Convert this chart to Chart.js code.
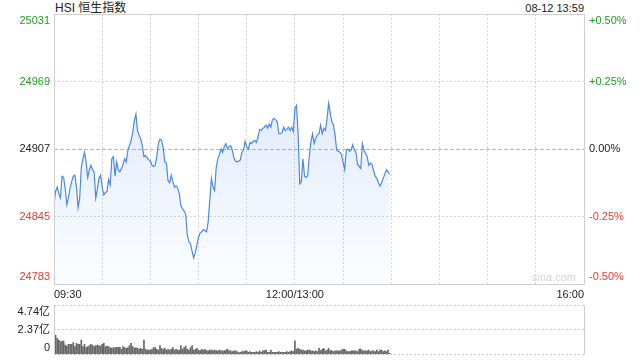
<!DOCTYPE html>
<html>
<head>
<meta charset="utf-8">
<script src="https://cdn.jsdelivr.net/npm/chart.js@4/dist/chart.umd.min.js"></script>
<style>
  body { margin: 0; width: 640px; height: 360px; background: #fff; position: relative; overflow: hidden;
         font-family: "Liberation Sans", Arial, "Noto Sans CJK SC", sans-serif; }
  #main { position: absolute; left: 0; top: 0; }
  #vol  { position: absolute; left: 0; top: 300px; }
  .txt  { position: absolute; white-space: nowrap; color: #222; }
  #title { left: 55px; top: 1px; font-size: 12px; line-height: 15px; }
  #stamp { right: 56px; top: 1px; font-size: 11px; line-height: 14px; }
  #mark  { left: 532px; top: 271px; font-size: 11px; line-height: 13px; color: #d4d4d4; }
</style>
</head>
<body>
<div class="txt" id="title">HSI 恒生指数</div>
<div class="txt" id="stamp">08-12 13:59</div>
<canvas id="main" width="640" height="300"></canvas>
<canvas id="vol" width="640" height="60"></canvas>
<div class="txt" id="mark">sina.com</div>
<script>
// HSI intraday, one point per minute from 09:30 (index 0) to 13:59 (index 209)
const PREV_CLOSE = 24907;
const PRICE = [
  24857, 24868, 24872, 24866, 24862, 24882, 24881, 24870, 24856, 24862,
  24871, 24877, 24882, 24883, 24872, 24853, 24862, 24890, 24898, 24904,
  24895, 24881, 24888, 24892, 24888, 24886, 24862, 24870, 24880, 24883,
  24872, 24865, 24867, 24868, 24879, 24874, 24898, 24900, 24882, 24895,
  24888, 24886, 24889, 24893, 24898, 24895, 24906, 24910, 24915, 24922,
  24933, 24939, 24924, 24920, 24916, 24910, 24900, 24901, 24899, 24897,
  24896, 24892, 24891, 24892, 24900, 24912, 24916, 24915, 24908, 24895,
  24894, 24878, 24876, 24883, 24877, 24872, 24873, 24871, 24866, 24855,
  24852, 24850, 24847, 24828, 24822, 24820, 24813, 24807, 24812, 24819,
  24826, 24830, 24831, 24833, 24832, 24831, 24840, 24860, 24880, 24872,
  24869, 24890, 24898, 24902, 24907, 24904, 24909, 24912, 24907, 24909,
  24910, 24906, 24899, 24896, 24895, 24896, 24897, 24904, 24906, 24914,
  24909, 24907, 24913, 24912, 24914, 24915, 24913, 24918, 24925, 24924,
  24926, 24927, 24929, 24926, 24930, 24927, 24934, 24935, 24934, 24932,
  24921, 24921, 24922, 24927, 24924, 24925, 24927, 24924, 24927, 24923,
  24944, 24947, 24921, 24875, 24877, 24898, 24882, 24881, 24883, 24901,
  24914, 24921, 24912, 24917, 24920, 24921, 24929, 24921, 24926, 24924,
  24935, 24949, 24940, 24932, 24929, 24920, 24906, 24905, 24904, 24902,
  24895, 24888, 24906, 24907, 24905, 24906, 24911, 24906, 24904, 24893,
  24891, 24889, 24912, 24906, 24903, 24900, 24892, 24894, 24893, 24887,
  24882, 24880, 24876, 24873, 24876, 24880, 24884, 24888, 24886, 24884
];
// volume per minute, 亿
const VOLUME = [
  4.74, 1.87, 1.55, 1.39, 1.23, 1.29, 1.29, 0.91, 0.81, 0.97,
  0.97, 0.97, 1.13, 0.75, 1.07, 0.97, 0.97, 1.39, 0.75, 0.97,
  0.66, 0.75, 0.85, 0.97, 0.91, 0.75, 0.85, 0.91, 0.85, 0.81,
  0.97, 1.07, 0.75, 0.81, 0.75, 0.66, 0.59, 0.66, 0.66, 0.69,
  0.69, 0.69, 0.53, 0.75, 0.66, 0.59, 0.66, 0.85, 1.07, 0.75,
  0.59, 0.66, 0.59, 0.53, 0.59, 0.50, 1.39, 0.53, 0.43, 0.43,
  0.43, 0.50, 0.66, 0.66, 0.50, 0.43, 0.85, 0.59, 0.50, 0.59,
  0.43, 0.50, 0.43, 0.53, 0.66, 0.43, 0.50, 0.43, 0.43, 0.85,
  0.50, 0.66, 0.81, 0.53, 0.43, 0.66, 0.85, 0.43, 0.50, 0.59,
  0.43, 0.37, 0.50, 0.43, 0.50, 0.37, 0.34, 0.43, 0.43, 0.37,
  0.43, 0.37, 0.34, 0.43, 0.34, 0.34, 0.34, 0.43, 0.53, 0.37,
  0.34, 0.27, 0.34, 0.34, 0.27, 0.18, 0.21, 0.27, 0.27, 0.34,
  0.34, 0.21, 0.27, 0.21, 0.21, 0.21, 0.27, 0.21, 0.34, 0.21,
  0.34, 0.37, 0.43, 0.21, 0.21, 0.43, 0.21, 0.21, 0.21, 0.21,
  0.27, 0.21, 0.21, 0.21, 0.21, 0.27, 0.21, 0.27, 0.34, 0.27,
  1.32, 0.53, 0.59, 0.50, 0.43, 0.43, 0.34, 0.34, 0.43, 0.43,
  0.34, 0.34, 0.27, 0.34, 0.27, 0.59, 0.37, 0.50, 0.59, 0.34,
  0.43, 0.59, 0.37, 0.37, 0.27, 0.34, 0.34, 0.34, 0.34, 0.43,
  0.53, 0.50, 0.34, 0.27, 0.27, 0.34, 0.34, 0.34, 0.34, 0.27,
  0.50, 0.53, 0.37, 0.34, 0.34, 0.34, 0.43, 0.27, 0.34, 0.34,
  0.27, 0.43, 0.27, 0.43, 0.43, 0.27, 0.34, 0.27, 0.43, 0.11
];
const TIME_LABELS = { 0: "09:30", 150: "12:00/13:00", 330: "16:00" };
const PRICE_TICKS = [24783, 24845, 24907, 24969, 25031];
const PCT_TICKS = [-0.5, -0.25, 0, 0.25, 0.5];
const VOL_TICKS = [0, 2.37, 4.74];

const GREEN = "#1f9f1f", RED = "#f2382c", DARK = "#222";
const FONT = { family: '"Liberation Sans", Arial, "Noto Sans CJK SC", sans-serif', size: 11, lineHeight: 1.2 };
const upDown = v => v > 0 ? GREEN : (v < 0 ? RED : DARK);

// keep the bottom / top tick label inside the plot, like the original
const edgeLabel = (txt, i, n) => i === 0 ? [txt, ""] : (i === n - 1 ? ["", txt] : txt);
// fixed axis size, no extra room asked for the edge labels
const fixWidth = w => s => { s.width = w; s.paddingTop = 0; s.paddingBottom = 0; };

const frame = {
  id: "frame",
  afterDraw(chart, args, opts) {
    const { ctx, chartArea: a } = chart;
    ctx.save();
    ctx.strokeStyle = "#cfcfcf";
    ctx.lineWidth = 1;
    ctx.beginPath();
    if (opts.full) {
      ctx.rect(Math.round(a.left) + 0.5, Math.round(a.top) + 0.5, Math.round(a.right - a.left), Math.round(a.bottom - a.top));
    } else {
      ctx.moveTo(Math.round(a.left) + 0.5, a.top); ctx.lineTo(Math.round(a.left) + 0.5, a.bottom);
      ctx.moveTo(Math.round(a.right) + 0.5, a.top); ctx.lineTo(Math.round(a.right) + 0.5, a.bottom);
    }
    ctx.stroke();
    ctx.restore();
  }
};

new Chart(document.getElementById("main"), {
  type: "line",
  data: {
    datasets: [{
      data: PRICE.map((v, i) => ({ x: i, y: v })),
      borderColor: "#4a88ee",
      borderWidth: 1.2,
      pointRadius: 0,
      tension: 0,
      fill: "start",
      backgroundColor: c => {
        const a = c.chart.chartArea;
        if (!a) return "rgba(0,0,0,0)";
        const g = c.chart.ctx.createLinearGradient(0, a.top + 80, 0, a.bottom);
        g.addColorStop(0, "rgba(74,136,238,0.17)");
        g.addColorStop(1, "rgba(74,136,238,0.02)");
        return g;
      },
    }],
  },
  options: {
    responsive: false,
    animation: false,
    layout: { padding: { top: 14, left: 0, right: 0, bottom: 0 } },
    plugins: { legend: { display: false }, tooltip: { enabled: false }, frame: { full: true } },
    scales: {
      x: {
        type: "linear", min: 0, max: 330,
        afterBuildTicks: s => { s.ticks = Array.from({ length: 12 }, (_, k) => ({ value: k * 30 })); },
        afterFit: s => { s.height = 16; },
        ticks: { font: FONT, color: DARK, padding: 4, maxRotation: 0, autoSkip: false, align: "inner",
                 callback: v => TIME_LABELS[v] || "" },
        grid: { color: "#d6d6d6", drawTicks: false },
        border: { display: false, dash: [2, 2] },
      },
      y: {
        position: "left", min: 24783, max: 25031,
        afterBuildTicks: s => { s.ticks = PRICE_TICKS.map(v => ({ value: v })); },
        afterFit: fixWidth(54),
        ticks: { font: FONT, padding: 4, autoSkip: false, color: c => upDown(c.tick.value - PREV_CLOSE),
                 callback: (v, i, t) => edgeLabel(String(v), i, t.length) },
        grid: { color: c => c.tick.value === PREV_CLOSE ? "#b8b8b8" : "#d6d6d6", drawTicks: false },
        border: { display: false, dash: c => c.tick && c.tick.value === PREV_CLOSE ? [4, 2] : [2, 2] },
      },
      pct: {
        position: "right", min: -0.5, max: 0.5,
        afterBuildTicks: s => { s.ticks = PCT_TICKS.map(v => ({ value: v })); },
        afterFit: fixWidth(56),
        ticks: { font: FONT, padding: 5, autoSkip: false, color: c => upDown(c.tick.value),
                 callback: (v, i, t) => edgeLabel((v > 0 ? "+" : "") + v.toFixed(2) + "%", i, t.length) },
        grid: { display: false, drawTicks: false },
        border: { display: false },
      },
    },
  },
  plugins: [frame],
});

new Chart(document.getElementById("vol"), {
  type: "bar",
  data: {
    datasets: [{
      data: VOLUME.map((v, i) => ({ x: i, y: v })),
      backgroundColor: "#676767",
      barThickness: 1,
    }],
  },
  options: {
    responsive: false,
    animation: false,
    layout: { padding: { top: 5, left: 0, right: 56, bottom: 5.5 } },
    plugins: { legend: { display: false }, tooltip: { enabled: false }, frame: { full: false } },
    scales: {
      x: { type: "linear", min: 0, max: 330, offset: false, display: false },
      y: {
        position: "left", min: 0, max: 4.74,
        afterBuildTicks: s => { s.ticks = VOL_TICKS.map(v => ({ value: v })); },
        afterFit: fixWidth(54),
        ticks: { font: FONT, padding: 4, autoSkip: false, color: DARK,
                 callback: (v, i, t) => edgeLabel(v === 0 ? "0" : v.toFixed(2) + "亿", i, t.length) },
        grid: { color: "#cfcfcf", drawTicks: false },
        border: { display: false, dash: [2, 2] },
      },
    },
  },
  plugins: [frame],
});
</script>
</body>
</html>
